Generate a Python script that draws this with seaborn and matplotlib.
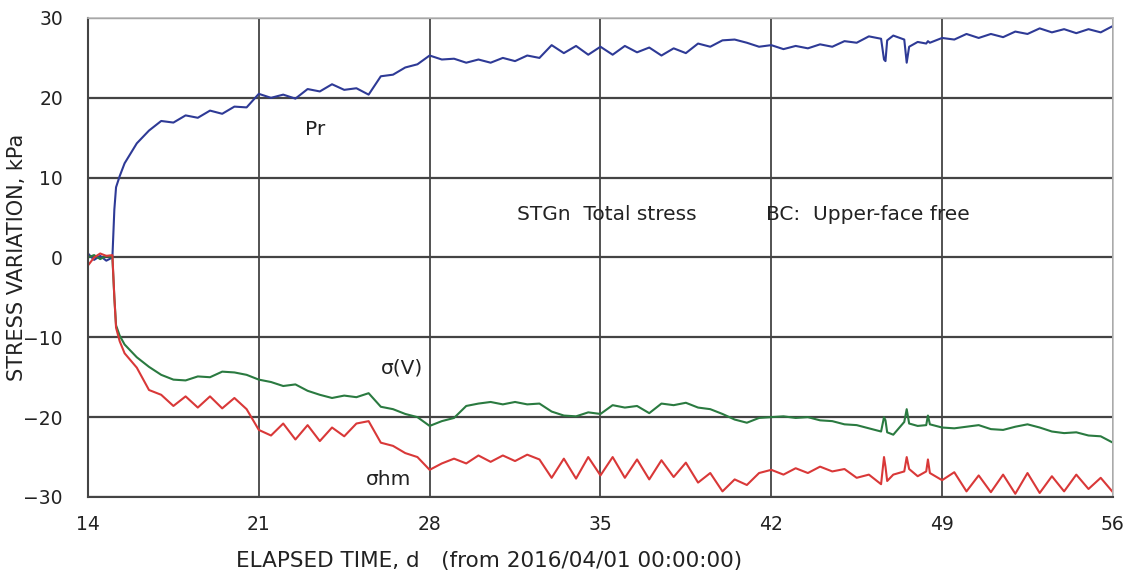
import numpy as np
import pandas as pd
import matplotlib
matplotlib.use("Agg")
import matplotlib.pyplot as plt
import seaborn as sns

days = [14.0, 14.25, 14.5, 14.75, 15.0, 15.08, 15.15, 15.3, 15.5, 16.0,
        16.5, 17.0, 17.5, 18.0, 18.5, 19.0, 19.5, 20.0, 20.5, 21.0,
        21.5, 22.0, 22.5, 23.0, 23.5, 24.0, 24.5, 25.0, 25.5, 26.0,
        26.5, 27.0, 27.5, 28.0, 28.5, 29.0, 29.5, 30.0, 30.5, 31.0,
        31.5, 32.0, 32.5, 33.0, 33.5, 34.0, 34.5, 35.0, 35.5, 36.0,
        36.5, 37.0, 37.5, 38.0, 38.5, 39.0, 39.5, 40.0, 40.5, 41.0,
        41.5, 42.0, 42.5, 43.0, 43.5, 44.0, 44.5, 45.0, 45.5, 46.0,
        46.5, 46.62, 46.68, 46.75, 47.0, 47.45, 47.55, 47.65, 48.0, 48.35,
        48.42, 48.5, 49.0, 49.5, 50.0, 50.5, 51.0, 51.5, 52.0, 52.5,
        53.0, 53.5, 54.0, 54.5, 55.0, 55.5, 56.0]

pr = [0.5, -0.3, 0.2, -0.4, 0.0, 6.0, 8.8, 10.2, 11.8, 14.3,
      15.9, 17.1, 16.9, 17.8, 17.5, 18.4, 18.0, 18.9, 18.8, 20.5,
      20.0, 20.4, 19.9, 21.1, 20.8, 21.7, 21.0, 21.2, 20.4, 22.7,
      22.9, 23.8, 24.2, 25.3, 24.8, 24.9, 24.4, 24.8, 24.4, 25.0,
      24.6, 25.3, 25.0, 26.6, 25.6, 26.5, 25.4, 26.4, 25.4, 26.5,
      25.7, 26.3, 25.3, 26.2, 25.6, 26.8, 26.4, 27.2, 27.3, 26.9,
      26.4, 26.6, 26.1, 26.5, 26.2, 26.7, 26.4, 27.1, 26.9, 27.7,
      27.4, 24.8, 24.6, 27.2, 27.8, 27.3, 24.4, 26.4, 27.0, 26.8,
      27.1, 26.9, 27.5, 27.3, 28.0, 27.5, 28.0, 27.6, 28.3, 28.0,
      28.7, 28.2, 28.6, 28.1, 28.6, 28.2, 29.0]

sigma_v = [0.0, 0.3, -0.2, 0.2, 0.0, -5.0, -8.5, -9.8, -10.9, -12.5,
           -13.7, -14.7, -15.3, -15.4, -14.9, -15.0, -14.3, -14.4, -14.7, -15.3,
           -15.6, -16.1, -15.9, -16.7, -17.2, -17.6, -17.3, -17.5, -17.0, -18.7,
           -19.0, -19.6, -20.0, -21.1, -20.5, -20.1, -18.6, -18.3, -18.1, -18.4,
           -18.1, -18.4, -18.3, -19.3, -19.8, -19.9, -19.4, -19.6, -18.5, -18.8,
           -18.6, -19.5, -18.3, -18.5, -18.2, -18.8, -19.0, -19.6, -20.3, -20.7,
           -20.1, -20.0, -19.9, -20.1, -20.0, -20.4, -20.5, -20.9, -21.0, -21.4,
           -21.8, -20.0, -20.4, -21.9, -22.2, -20.6, -19.0, -20.8, -21.1, -21.0,
           -19.8, -20.9, -21.3, -21.4, -21.2, -21.0, -21.5, -21.6, -21.2, -20.9,
           -21.3, -21.8, -22.0, -21.9, -22.3, -22.4, -23.2]

sigma_hm = [-1.0, 0.0, 0.5, 0.2, 0.3, -5.0, -8.8, -10.5, -12.0, -13.8,
            -16.6, -17.2, -18.6, -17.4, -18.8, -17.4, -18.9, -17.6, -19.0, -21.6,
            -22.3, -20.8, -22.8, -21.0, -23.0, -21.3, -22.4, -20.8, -20.5, -23.2,
            -23.6, -24.5, -25.0, -26.6, -25.8, -25.2, -25.8, -24.8, -25.6, -24.8,
            -25.5, -24.7, -25.3, -27.6, -25.2, -27.7, -25.0, -27.3, -25.0, -27.6,
            -25.3, -27.8, -25.4, -27.5, -25.7, -28.2, -27.0, -29.3, -27.8, -28.5,
            -27.0, -26.6, -27.2, -26.4, -27.0, -26.2, -26.8, -26.5, -27.6, -27.2,
            -28.4, -25.0, -26.2, -28.0, -27.2, -26.8, -25.0, -26.5, -27.4, -26.8,
            -25.3, -27.0, -27.9, -26.9, -29.3, -27.3, -29.4, -27.2, -29.6, -27.0,
            -29.5, -27.4, -29.3, -27.2, -29.0, -27.6, -29.4]

series_names = ["Pr", "σ(V)", "σhm"]
series_colors = ["#2e3a96", "#2a7a40", "#d93838"]
x_ticks = [14, 21, 28, 35, 42, 49, 56]
y_ticks = [-30, -20, -10, 0, 10, 20, 30]

df = pd.DataFrame({
    "day": days * 3,
    "value": pr + sigma_v + sigma_hm,
    "series": [series_names[0]] * len(days) + [series_names[1]] * len(days) + [series_names[2]] * len(days),
})

sns.set_style("white")
plt.rcParams["font.family"] = ["DejaVu Sans", "Noto Sans CJK JP"]

fig = plt.figure(figsize=(11.31, 5.75), dpi=100)
ax = fig.add_axes([0.0778, 0.1357, 0.9062, 0.833])

# grid
for xv in x_ticks:
    ax.axvline(xv, color="#444444", lw=1.3, zorder=0)
for yv in y_ticks:
    ax.axhline(yv, color="#444444", lw=1.6, zorder=0)

sns.lineplot(data=df, x="day", y="value", hue="series", palette=dict(zip(series_names, series_colors)),
             hue_order=series_names, sort=False, estimator=None, lw=1.5, legend=False, ax=ax)

ax.set_xlim(14, 56)
ax.set_ylim(-30, 30)
ax.set_xticks(x_ticks)
ax.set_yticks(y_ticks)
ax.set_yticklabels([str(v) if v >= 0 else "\u2212" + str(-v) for v in y_ticks])
ax.tick_params(axis="both", length=0, labelsize=13.5, colors="#222222")
ax.tick_params(axis="x", pad=13)
ax.tick_params(axis="y", pad=18)

for side in ["left", "bottom"]:
    ax.spines[side].set_color("#444444")
    ax.spines[side].set_linewidth(1.5)
for side in ["top", "right"]:
    ax.spines[side].set_color("#bbbbbb")
    ax.spines[side].set_linewidth(1.2)

ax.set_ylabel("STRESS VARIATION, kPa", fontsize=15, color="#222222")
ax.yaxis.set_label_coords(-0.0595, 0.5)
ax.set_xlabel("ELAPSED TIME, d\u3000(from 2016/04/01 00:00:00)", fontsize=15.5, color="#222222",
              family=["DejaVu Sans", "Noto Sans CJK JP"])
ax.xaxis.set_label_coords(0.391, -0.113)

ax.text(22.9, 16.0, "Pr", fontsize=14.5, color="#222222", va="center")
ax.text(31.6, 5.4, "STGn  Total stress", fontsize=14.5, color="#222222", va="center")
ax.text(41.8, 5.4, "BC:  Upper-face free", fontsize=14.5, color="#222222", va="center")
ax.text(26.0, -13.8, "σ(V)", fontsize=14.5, color="#222222", va="center")
ax.text(25.4, -27.8, "σhm", fontsize=14.5, color="#222222", va="center")

fig.savefig("out.png", dpi=100)
